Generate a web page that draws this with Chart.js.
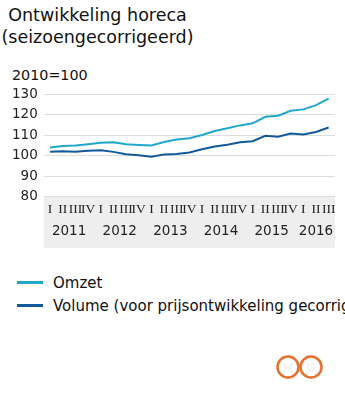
<!DOCTYPE html>
<html>
<head>
<meta charset="utf-8">
<script src="https://cdn.jsdelivr.net/npm/chart.js@4/dist/chart.umd.min.js"></script>
<style>
  body { margin:0; background:#fff; font-family:"DejaVu Sans", Verdana, sans-serif; }
  #wrap { position:relative; width:345px; height:400px; overflow:hidden; }
  #title { position:absolute; left:0; top:4px; width:195px; text-align:center; font-size:17.5px; line-height:22px; color:#111; white-space:nowrap; }
  #unit { position:absolute; left:12px; top:67px; font-size:14.3px; color:#111; }
  canvas#c { position:absolute; left:0; top:0; }
  .leg { position:absolute; left:17px; font-size:15px; color:#111; white-space:nowrap; }
  .leg span.sw { display:inline-block; width:26px; height:3px; vertical-align:middle; margin-right:10px; position:relative; top:-1px; }
  #logo { position:absolute; left:274px; top:354px; }
</style>
</head>
<body>
<div id="wrap">
  <div id="title">Ontwikkeling horeca<br>(seizoengecorrigeerd)</div>
  <div id="unit">2010=100</div>
  <canvas id="c" width="345" height="260"></canvas>
  <div class="leg" style="top:274px"><span class="sw" style="background:#22a7cc"></span>Omzet</div>
  <div class="leg" style="top:297px"><span class="sw" style="background:#125a9c"></span>Volume (voor prijsontwikkeling gecorrigeerd)</div>
  <svg id="logo" width="52" height="28">
    <circle cx="14" cy="13" r="10.5" fill="none" stroke="#e8702f" stroke-width="2.5"/>
    <circle cx="37" cy="13" r="10.5" fill="none" stroke="#e8702f" stroke-width="2.5"/>
    <text x="14" y="18" font-size="13" text-anchor="middle" fill="#fff" stroke="#eee" stroke-width="0.6" font-family="DejaVu Sans">H</text>
    <text x="37" y="18" font-size="13" text-anchor="middle" fill="#fff" stroke="#eee" stroke-width="0.6" font-family="DejaVu Sans">G</text>
  </svg>
</div>
<script>
const quarters = ['I','II','III','IV','I','II','III','IV','I','II','III','IV','I','II','III','IV','I','II','III','IV','I','II','III'];
const years = ['2011','2012','2013','2014','2015','2016'];
const yearCenters = [1.5, 5.5, 9.5, 13.5, 17.5, 21];
const omzet = [103.9,104.7,104.9,105.5,106.2,106.5,105.5,105.2,104.9,106.6,107.8,108.4,110.0,112.0,113.3,114.7,115.7,118.9,119.4,121.8,122.5,124.6,127.7];
const volume = [101.9,102.1,101.9,102.3,102.6,101.8,100.6,100.2,99.4,100.5,100.8,101.5,103.1,104.4,105.3,106.5,107.0,109.6,109.2,110.7,110.3,111.5,113.7];

const bandPlugin = {
  id: 'band',
  beforeDraw(chart) {
    const ctx = chart.ctx, a = chart.chartArea, x2 = chart.scales.x2;
    ctx.save();
    ctx.fillStyle = '#eeeeee';
    ctx.fillRect(a.left, a.bottom, a.right - a.left, x2.bottom - a.bottom);
    ctx.restore();
  }
};

new Chart(document.getElementById('c'), {
  type: 'line',
  data: {
    labels: quarters,
    datasets: [
      { label: 'Omzet', data: omzet, borderColor: '#22a7cc', borderWidth: 2, pointRadius: 0, tension: 0 },
      { label: 'Volume (voor prijsontwikkeling gecorrigeerd)', data: volume, borderColor: '#125a9c', borderWidth: 2, pointRadius: 0, tension: 0 }
    ]
  },
  options: {
    responsive: false,
    animation: false,
    layout: { padding: { top: 94, left: 6, right: 10, bottom: 12 } },
    plugins: { legend: { display: false }, tooltip: { enabled: false } },
    scales: {
      y: {
        min: 80, max: 130,
        ticks: { stepSize: 10, color: '#222', padding: 6, font: { family: 'DejaVu Sans', size: 13.5 } },
        grid: { color: '#dddddd', drawTicks: false },
        border: { display: false }
      },
      x: {
        offset: true,
        grid: { display: false, drawTicks: false },
        border: { display: false },
        ticks: { autoSkip: false, maxRotation: 0, color: '#222', padding: 5, font: { family: 'Liberation Serif', size: 13.5 } }
      },
      x2: {
        type: 'linear', position: 'bottom',
        min: -0.5, max: 22.5,
        grid: { display: false, drawTicks: false },
        border: { display: false },
        afterBuildTicks: s => { s.ticks = yearCenters.map(v => ({ value: v })); },
        afterFit: s => { s.height += 7; },
        ticks: {
          autoSkip: false, maxRotation: 0, padding: 1, color: '#222',
          font: { family: 'DejaVu Sans', size: 13.5 },
          callback: v => years[yearCenters.indexOf(v)]
        }
      }
    }
  },
  plugins: [bandPlugin]
});
</script>
</body>
</html>
